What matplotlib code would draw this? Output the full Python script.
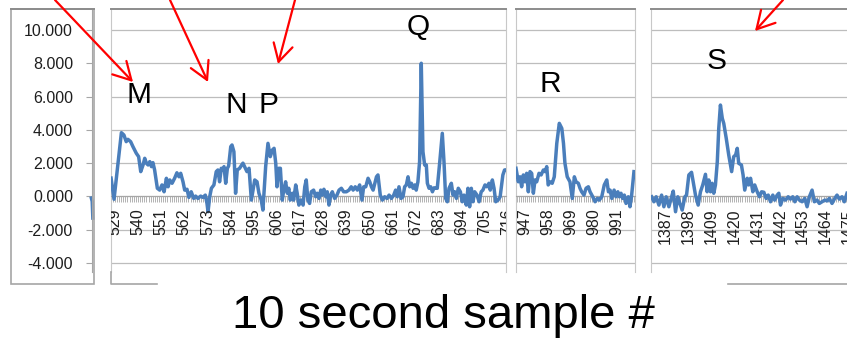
import numpy as np
import matplotlib
matplotlib.use('Agg')
import matplotlib.pyplot as plt
from matplotlib.patches import Rectangle

plt.rcParams['font.family'] = ['Liberation Sans', 'DejaVu Sans']

# ---- data (sample #, value) ----
seg1_x = [527.2, 528.6, 532.1, 533.3, 534.4, 535.2, 536.5, 537.6, 539.2, 540.3, 541.3, 542.4, 543.2, 544.0,
          544.8, 545.6, 546.4, 547.1, 547.9, 549.2, 550.3, 551.4, 552.4, 553.5, 554.3, 555.1, 556.2, 557.4,
          558.5, 559.5, 560.3, 561.4, 562.2, 563.3, 564.2, 565.3, 566.5, 567.4, 568.5, 569.8, 570.9, 572.0,
          572.8, 573.3, 574.1, 574.9, 576.1, 577.2, 578.0, 578.8, 579.6, 580.4, 580.9, 581.7, 582.5, 583.1,
          584.1, 584.7, 585.6, 586.4, 587.2, 588.3, 589.9, 591.8, 592.8, 593.9, 594.7, 595.5, 596.6, 597.5,
          598.6, 599.4, 600.7, 601.8, 602.9, 603.9, 604.7, 605.5, 606.1, 606.9, 607.7, 608.6, 609.3, 610.2,
          611.0, 611.7, 612.4, 613.4, 614.0, 615.0, 615.7, 616.5, 617.6, 618.5, 619.3, 620.0, 620.8, 621.6,
          622.4, 623.5, 624.5, 625.2, 626.1, 626.9, 627.6, 628.4, 629.3, 630.0, 630.8, 631.6, 632.4, 633.5,
          634.6, 635.6, 636.7, 637.8, 639.1, 640.3, 641.4, 642.3, 643.3, 644.3, 645.4, 646.5, 647.3, 648.3,
          649.4, 650.2, 651.0, 651.8, 653.4, 654.1, 655.2, 656.2, 657.3, 658.4, 659.4, 660.5, 661.6, 662.5,
          663.3, 664.1, 665.1, 666.0, 666.8, 667.6, 668.4, 669.2, 670.0, 670.8, 671.6, 672.3, 673.1, 673.9,
          674.7, 675.5, 676.3, 677.1, 677.6, 678.4, 679.2, 680.0, 680.8, 681.6, 682.3, 683.5, 684.7, 685.5,
          686.3, 687.1, 687.9, 689.0, 689.8, 690.6, 691.4, 692.3, 693.3, 694.2, 695.0, 696.1, 696.9, 697.7,
          698.5, 699.3, 700.1, 701.2, 702.2, 703.2, 704.0, 705.0, 705.9, 706.9, 707.5, 708.5, 709.3, 710.1,
          711.2, 712.2, 713.5, 714.3, 715.2]
seg1_y = [1.1, -0.17, 3.83, 3.69, 3.29, 3.43, 3.29, 2.99, 2.59, 2.39, 1.49, 1.89, 2.29, 1.99,
          1.89, 2.09, 1.79, 2.03, 1.59, 0.49, 0.38, 0.69, 0.28, 1.09, 0.58, 0.99, 0.79, 1.09,
          1.42, 1.18, 1.39, 0.88, 0.38, 0.43, -0.06, 0.28, -0.12, 0.02, -0.12, 0.02, -0.06, 0.08,
          -0.42, -0.92, -0.02, 0.49, 0.69, 1.49, 1.59, 0.88, 1.69, 1.59, 1.79, 0.79, 1.69, 1.83,
          2.99, 3.09, 2.69, 0.19, 1.59, 1.69, 2.0, 1.49, 1.69, -0.22, 0.38, 0.99, 0.88, 0.19,
          -0.22, -0.82, 1.79, 3.19, 2.39, 2.79, 2.89, 1.99, 0.58, 1.69, 1.69, -0.22, 0.38, 0.88,
          0.19, 0.49, -0.22, 0.19, -0.22, 0.69, 0.19, -0.52, -0.22, -0.52, 0.58, 0.99, -0.22, -0.42,
          0.28, 0.38, -0.02, 0.19, -0.12, 0.38, 0.08, 0.43, -0.02, 0.28, -0.52, 0.08, 0.28, -0.12,
          0.08, 0.38, 0.49, 0.28, 0.28, 0.38, 0.58, 0.38, 0.58, 0.38, 0.69, -0.22, 0.58, 0.58,
          1.09, 0.88, 0.58, 0.38, 1.18, 1.29, 0.08, -0.22, -0.02, -0.12, 0.08, -0.12, 0.08, 0.38,
          -0.02, 0.58, -0.12, -0.02, 0.58, 0.69, 1.18, 0.58, 0.79, 0.49, 0.69, 0.38, 0.88, 2.09,
          8.0, 2.69, 1.89, 1.89, 0.79, 0.49, 0.58, 0.28, 0.52, 0.49, 0.49, 2.09, 3.79, 2.09,
          -0.12, -0.32, 0.49, 0.79, 0.08, 0.28, -0.12, 0.49, 0.28, -0.32, 0.08, -0.52, 0.49, -0.62,
          0.49, -0.32, 0.28, 0.08, -0.32, 0.28, 0.38, 0.69, 0.58, 0.79, 0.38, 0.99, 0.49, -0.32,
          -0.22, -0.02, 1.29, 1.59, 1.6]

seg2_x = [942.7, 943.8, 944.6, 945.4, 946.2, 947.0, 947.8, 948.6, 949.4, 950.2, 951.0, 951.8, 952.6, 953.7,
          954.7, 955.8, 956.6, 957.4, 958.1, 958.9, 960.0, 961.0, 962.2, 963.4, 964.6, 965.4, 966.1, 967.2,
          968.5, 969.6, 970.6, 971.4, 972.5, 973.3, 974.1, 975.2, 976.2, 977.3, 978.1, 979.4, 980.5, 981.6,
          982.5, 983.7, 984.9, 986.1, 986.9, 987.7, 988.5, 989.6, 990.5, 991.4, 992.1, 992.9, 993.7, 994.5,
          995.3, 996.4, 997.2, 998.0, 999.1]
seg2_y = [1.69, 0.88, 1.18, 0.58, 1.29, 0.88, 1.39, 0.28, 1.49, 1.39, 0.19, 0.99, 0.88, 1.39,
          1.29, 1.59, 1.49, 1.79, 0.69, 0.88, 0.79, 1.18, 3.19, 4.39, 4.09, 3.19, 1.99, 1.18,
          0.88, -0.12, 1.18, 0.88, 0.79, 0.49, 0.28, 0.08, 0.49, 0.58, 0.28, -0.02, -0.32, -0.12,
          -0.22, -0.02, 0.69, 0.99, 0.28, 0.38, -0.12, 0.38, -0.02, 0.28, -0.02, 0.19, -0.12, 0.08,
          -0.42, -0.02, -0.62, 0.08, 1.49]

seg3_x = [1380.3, 1381.4, 1382.5, 1383.8, 1385.1, 1386.2, 1387.3, 1388.6, 1389.7, 1390.7, 1391.8, 1392.9,
          1393.9, 1395.0, 1396.3, 1397.1, 1398.2, 1399.5, 1400.3, 1401.4, 1402.7, 1403.8, 1404.9, 1406.2,
          1407.0, 1407.8, 1408.6, 1409.4, 1410.2, 1411.0, 1411.9, 1412.6, 1413.4, 1414.3, 1415.0, 1416.2,
          1417.4, 1418.8, 1419.8, 1420.7, 1421.5, 1422.2, 1423.5, 1424.3, 1425.1, 1426.3, 1427.0, 1427.9,
          1429.0, 1429.9, 1431.1, 1432.2, 1433.2, 1434.3, 1435.4, 1436.4, 1437.5, 1438.6, 1439.5, 1440.7,
          1441.5, 1442.3, 1443.4, 1444.7, 1446.0, 1447.1, 1448.2, 1449.2, 1450.3, 1451.4, 1452.7, 1454.0,
          1455.1, 1456.2, 1457.5, 1458.6, 1459.9, 1461.0, 1462.3, 1463.6, 1464.7, 1465.8, 1467.1, 1468.4,
          1469.5, 1470.6, 1471.9, 1473.0, 1474.3]
seg3_y = [-0.02, -0.32, -0.02, -0.52, 0.08, -0.62, -0.02, -0.62, -0.12, 0.32, -0.92, -0.02,
          -0.42, -0.82, -0.02, 0.08, 1.29, 1.45, 0.88, 0.08, -0.52, 0.28, 0.69, 1.33,
          0.28, 0.99, 0.28, 0.79, 0.19, 0.69, 2.09, 4.09, 5.49, 4.69, 4.39, 3.49,
          2.49, 1.49, 2.39, 2.49, 2.89, 1.99, 1.89, 1.29, 0.38, 1.09, 0.69, 1.09,
          0.28, 0.69, 0.28, -0.02, 0.28, 0.25, -0.12, 0.08, -0.32, 0.08, -0.22, 0.08,
          0.19, -0.52, -0.12, -0.22, -0.02, -0.16, -0.02, -0.32, -0.02, -0.22, -0.32, -0.12,
          -0.62, -0.02, 0.38, -0.32, -0.22, -0.42, -0.32, -0.22, -0.27, -0.12, -0.42, -0.12,
          0.08, -0.16, -0.02, -0.32, 0.19]

tail_x = [518.6, 519.0, 519.3]
tail_y = [-0.1, -0.3, -1.3]

seg1_labels = list(range(529, 717, 11))
seg2_labels = list(range(947, 992, 11))
seg3_labels = list(range(1387, 1476, 11))

y_ticks = [-4, -2, 0, 2, 4, 6, 8, 10]
y_labels = ['-4.000', '-2.000', '0.000', '2.000', '4.000', '6.000', '8.000', '10.000']

marks = ['M', 'N', 'P', 'Q', 'R', 'S']
xlabel_text = '10 second sample #'

# ---- layout (pixels) ----
W, H = 847, 338
BLUE = '#4a7ebb'
GRID = '#bdbdbd'
EDGE = '#a6a6a6'
TOP = '#8c8c8c'
TXT = '#1e1e1e'
YLIM = (-4.54, 11.26)

fig = plt.figure(figsize=(W / 100, H / 100), dpi=100)


def px_axes(x0, x1, y0, y1):
    return fig.add_axes([x0 / W, 1 - y1 / H, (x1 - x0) / W, (y1 - y0) / H])


panels = [
    (111, 506, (527.16, 714.99), seg1_x, seg1_y, seg1_labels, True),
    (516, 635, (942.7, 999.6), seg2_x, seg2_y, seg2_labels, True),
    (651, 847, (1380.0, 1474.3), seg3_x, seg3_y, seg3_labels, False),
]

for x0, x1, xlim, xs, ys, labels, right in panels:
    ax = px_axes(x0, x1, 9, 272)
    ax.plot(xs, ys, color=BLUE, lw=2.5, solid_joinstyle='round', zorder=3)
    ax.set_xlim(*xlim)
    ax.set_ylim(*YLIM)
    ax.set_axisbelow(True)
    ax.set_yticks(y_ticks)
    ax.grid(axis='y', color=GRID, lw=0.9)
    ax.tick_params(axis='y', length=0, labelleft=False)
    ax.set_xticks(np.arange(np.ceil(xlim[0]), np.floor(xlim[1]) + 1))
    ax.tick_params(axis='x', direction='out', length=4.3, width=0.6, color=EDGE, labelbottom=False)
    ax.spines['bottom'].set_position(('data', 0))
    ax.spines['bottom'].set_color(EDGE)
    ax.spines['top'].set_color(TOP)
    ax.spines['top'].set_linewidth(1.4)
    ax.spines['left'].set_color('#c8c8c8')
    ax.spines['right'].set_color('#c8c8c8')
    ax.spines['right'].set_visible(right)
    for lab in labels:
        ax.text(lab, -0.72, str(lab), rotation=90, ha='center', va='top',
                fontsize=11.5, color=TXT, clip_on=True)

# value axis on the left
ax1 = px_axes(92, 94, 9, 272)
ax1.set_ylim(*YLIM)
ax1.set_xlim(518.9, 519.85)
ax1.plot(tail_x, tail_y, color=BLUE, lw=2.5, clip_on=False)
ax1.set_xticks([])
ax1.set_yticks(y_ticks)
ax1.set_yticklabels(y_labels)
ax1.tick_params(axis='y', direction='out', length=4.3, width=0.8, color=EDGE,
                pad=9.4, labelsize=11.5, labelcolor=TXT)
for s in ['top', 'right', 'bottom']:
    ax1.spines[s].set_visible(False)
ax1.spines['left'].set_color(EDGE)
ax1.patch.set_alpha(0)

# overlay for letters, arrows, frame pieces and the axis title
ov = fig.add_axes([0, 0, 1, 1], zorder=10)
ov.set_xlim(0, W)
ov.set_ylim(H, 0)
ov.axis('off')
ov.patch.set_alpha(0)

ov.add_patch(Rectangle((11, 9), 83, 275, fill=False, ec=EDGE, lw=1.2))
ov.plot([11, 94], [9, 9], color=TOP, lw=1.4)
ov.plot([111, 111, 157], [272, 284, 284], color=EDGE, lw=1.2)
ov.plot([728, 847], [284, 284], color=EDGE, lw=1.2)

mark_pos = [(139, 102.7), (236, 113), (268.5, 113), (418.5, 35), (550, 91.7), (717, 69)]
for m, (mx, my) in zip(marks, mark_pos):
    ov.text(mx, my, m, ha='center', va='baseline', fontsize=21.5, color='black')

arrows = [((55, 0), (133, 82)), ((170, 0), (208, 82)), ((295, 0), (278, 64)), ((783, 0), (755, 31))]
for start, tip in arrows:
    ov.annotate('', xy=tip, xytext=start,
                arrowprops=dict(arrowstyle='->,head_length=0.63,head_width=0.35', color='red',
                                lw=1.6, mutation_scale=20, shrinkA=0, shrinkB=0))

ov.text(443.5, 327.5, xlabel_text, ha='center', va='baseline', fontsize=34, color='black')

fig.savefig('out.png', dpi=100)
